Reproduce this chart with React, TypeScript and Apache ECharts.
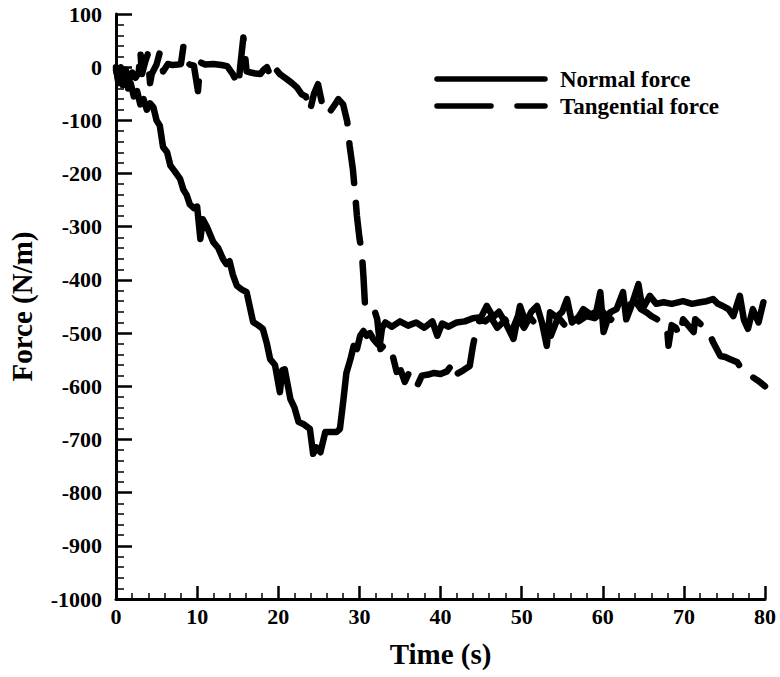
import React, { useEffect, useRef } from "react";
import * as echarts from "echarts";

// Normal force (solid line)
const timeNormal = [
  0, 0.3, 0.6, 0.9, 1.2, 1.5, 1.8, 2.2, 2.6, 3.0, 3.4, 3.8, 4.2, 4.6, 5.0, 5.4, 5.8, 6.3, 6.7, 7.2,
  7.9, 8.3, 8.7, 9.1, 9.6, 10.0, 10.4, 10.7, 11.2, 12.0, 12.6, 13.2, 13.6, 14.0, 14.4, 14.9, 15.5, 16.1, 16.9, 17.5,
  18.1, 18.6, 19.0, 19.6, 20.2, 20.5, 20.8, 21.5, 22.0, 22.5, 23.2, 23.9, 24.3, 24.7, 25.2, 25.8, 26.5, 27.2, 27.6, 28.0,
  28.4, 28.9, 29.3, 29.7, 30.1, 30.5, 30.9, 31.3, 31.7, 32.2, 32.5, 32.8, 33.2, 34, 35, 36, 37, 38, 39, 39.6,
  40.2, 41, 42, 43, 44, 45, 45.7, 46.5, 47.2, 48, 49, 49.8, 50.5, 51.2, 51.9, 52.5, 53.1, 53.5, 54.3, 55,
  55.6, 56.2, 57.0, 57.6, 58.5, 59.2, 59.7, 60.1, 60.9, 61.7, 62.5, 62.9, 63.5, 64.4, 64.9, 65.8, 66.6, 67.5, 68.5, 69.9,
  71, 72, 72.8, 73.6, 74.2, 74.8, 75.5, 76.1, 76.9, 77.4, 77.9, 78.5, 79.2, 79.8,
];
const forceNormal = [
  -5, -25, 0, -30, -10, -40, -30, -55, -45, -70, -60, -80, -68, -75, -100, -110, -150, -160, -185, -195,
  -210, -230, -240, -258, -265, -262, -323, -286, -300, -329, -340, -361, -370, -365, -390, -411, -418, -423, -479, -485,
  -492, -520, -549, -560, -611, -570, -568, -624, -640, -667, -672, -680, -727, -715, -724, -686, -686, -686, -680, -630,
  -575, -549, -524, -530, -505, -496, -505, -500, -511, -520, -524, -490, -480, -488, -478, -486, -480, -490, -478, -505,
  -482, -488, -480, -478, -472, -470, -449, -470, -460, -480, -511, -449, -480, -460, -449, -480, -524, -461, -470, -460,
  -436, -480, -470, -455, -465, -460, -423, -498, -461, -455, -423, -474, -450, -408, -455, -430, -445, -442, -445, -440,
  -445, -442, -440, -436, -445, -449, -455, -468, -430, -475, -492, -455, -480, -442,
];

// Tangential force (dashed line)
const timeTangential = [
  0, 0.3, 0.6, 0.9, 1.2, 1.6, 2.0, 2.4, 2.8, 3.0, 3.2, 3.6, 3.9, 4.2, 4.4, 5.0, 5.4, 5.8, 6.4, 7.0,
  7.6, 8.0, 8.3, 8.5, 9.1, 9.6, 10.1, 10.4, 11, 12, 13, 13.7, 14.4, 15.1, 15.3, 15.7, 16.1, 16.6, 17.2, 17.8,
  18.2, 18.6, 19.0, 19.4, 20.2, 21.1, 21.7, 22.3, 22.9, 23.4, 23.9, 24.4, 24.9, 25.5, 26.0, 26.4, 27.0, 27.4, 28.0, 28.5,
  28.8, 29.2, 29.5, 29.7, 30.0, 30.3, 30.5, 30.7, 31.2, 31.7, 32.2, 32.6, 33.2, 34.0, 34.6, 35.1, 35.6, 36.1, 36.6, 37.1,
  37.7, 38.5, 39.2, 40.0, 40.8, 41.6, 42.0, 42.8, 43.6, 44.0, 44.5, 44.9, 45.5, 46.2, 47, 48, 48.7, 49.5, 50.3, 51,
  52, 53, 53.6, 54.5, 55.3, 56, 57, 58, 59, 60, 61, 62, 63, 64, 64.7, 65.4, 66, 66.7, 67.3, 67.9,
  68.1, 68.5, 69.0, 69.5, 69.9, 70.5, 71.2, 71.4, 72.2, 72.9, 73.6, 74.5, 75.1, 75.7, 76.6, 77.2, 77.8, 78.5, 79.2, 80,
];
const forceTangential = [
  0, -30, -10, -40, -5, -25, -10, -20, -10, 31, -13, 10, 24, -30, -13, 5, 28, -8, 6, 4,
  5, 6, 38, 11, 5, 3, -45, 9, 5, 6, 4, 2, -13, -35, 0, 56, -8, -10, -12, -13,
  -5, 0, -15, 2, -13, -23, -30, -38, -51, -55, -83, -50, -32, -75, -70, -83, -70, -60, -70, -102,
  -148, -192, -243, -280, -320, -348, -393, -449, -445, -449, -474, -530, -520, -536, -573, -570, -592, -575, -580, -600,
  -580, -578, -575, -577, -572, -555, -577, -570, -562, -524, -486, -474, -478, -470, -490, -475, -500, -470, -490, -470,
  -488, -480, -505, -470, -485, -470, -478, -468, -472, -460, -475, -455, -450, -440, -455, -461, -468, -474, -480, -486,
  -524, -485, -490, -505, -474, -485, -498, -474, -485, -492, -517, -543, -545, -549, -555, -570, -580, -583, -590, -600,
];

const seriesNames = ["Normal force", "Tangential force"];
const xTicks = { min: 0, max: 80, interval: 10 };
const yTicks = { min: -1000, max: 100, interval: 100 };

const FONT = "'Liberation Serif', 'Times New Roman', serif";

export default function App() {
  const ref = useRef<HTMLDivElement>(null);

  useEffect(() => {
    document.body.style.margin = "0";
    if (!ref.current) return;
    const chart = echarts.init(ref.current, null, { renderer: "svg" });

    const normalData = timeNormal.map((t, i) => [t, forceNormal[i]]);
    const tangData = timeTangential.map((t, i) => [t, forceTangential[i]]);

    const axisCommon = {
      axisLine: { show: true, onZero: false, lineStyle: { color: "#000", width: 3 } },
      splitLine: { show: false },
      axisLabel: {
        color: "#000",
        fontFamily: FONT,
        fontWeight: "bold",
        fontSize: 22,
        formatter: (v: number) => String(v),
      },
      nameTextStyle: { color: "#000", fontFamily: FONT, fontWeight: "bold", fontSize: 29 },
    };

    chart.setOption({
      animation: false,
      backgroundColor: "#fff",
      grid: { left: 116, right: 15, top: 14, bottom: 78, containLabel: false, outerBoundsMode: "none" },
      xAxis: {
        ...axisCommon,
        type: "value",
        min: xTicks.min,
        max: xTicks.max,
        interval: xTicks.interval,
        name: "Time (s)",
        nameLocation: "middle",
        nameGap: 40,
        axisTick: { show: true, inside: true, length: 13, lineStyle: { color: "#000", width: 2.5 } },
        minorTick: { show: true, splitNumber: 5, length: 6, lineStyle: { color: "#000", width: 1.5 } },
        axisLabel: { ...axisCommon.axisLabel, margin: 6 },
      },
      yAxis: {
        ...axisCommon,
        type: "value",
        min: yTicks.min,
        max: yTicks.max,
        interval: yTicks.interval,
        name: "Force (N/m)",
        nameLocation: "middle",
        nameGap: 80,
        nameRotate: 90,
        axisTick: { show: true, inside: true, length: 16, lineStyle: { color: "#000", width: 2.5 } },
        minorTick: { show: true, splitNumber: 5, length: 8, lineStyle: { color: "#000", width: 1.5 } },
        axisLabel: { ...axisCommon.axisLabel, margin: 14 },
      },
      series: [
        {
          name: seriesNames[0],
          type: "line",
          data: normalData,
          symbol: "none",
          lineStyle: { color: "#000", width: 6.5, cap: "round", join: "round" },
          z: 3,
        },
        {
          name: seriesNames[1],
          type: "line",
          data: tangData,
          symbol: "none",
          lineStyle: { color: "#000", width: 6.5, type: [40, 20], cap: "round", join: "round" },
          z: 2,
        },
      ],
      graphic: [
        {
          type: "line",
          shape: { x1: 437, y1: 79, x2: 545, y2: 79 },
          style: { stroke: "#000", lineWidth: 5.5, lineCap: "round" },
        },
        {
          type: "line",
          shape: { x1: 437, y1: 106, x2: 545, y2: 106 },
          style: { stroke: "#000", lineWidth: 5.5, lineCap: "round", lineDash: [54, 26] },
        },
        {
          type: "text",
          x: 560,
          y: 79,
          style: {
            text: seriesNames[0],
            fill: "#000",
            font: `bold 23px ${FONT}`,
            verticalAlign: "middle",
          },
        },
        {
          type: "text",
          x: 560,
          y: 106,
          style: {
            text: seriesNames[1],
            fill: "#000",
            font: `bold 23px ${FONT}`,
            verticalAlign: "middle",
          },
        },
      ],
    });

    return () => chart.dispose();
  }, []);

  return (
    <div
      ref={ref}
      style={{ position: "fixed", left: 0, top: 0, width: 780, height: 677 }}
    />
  );
}
